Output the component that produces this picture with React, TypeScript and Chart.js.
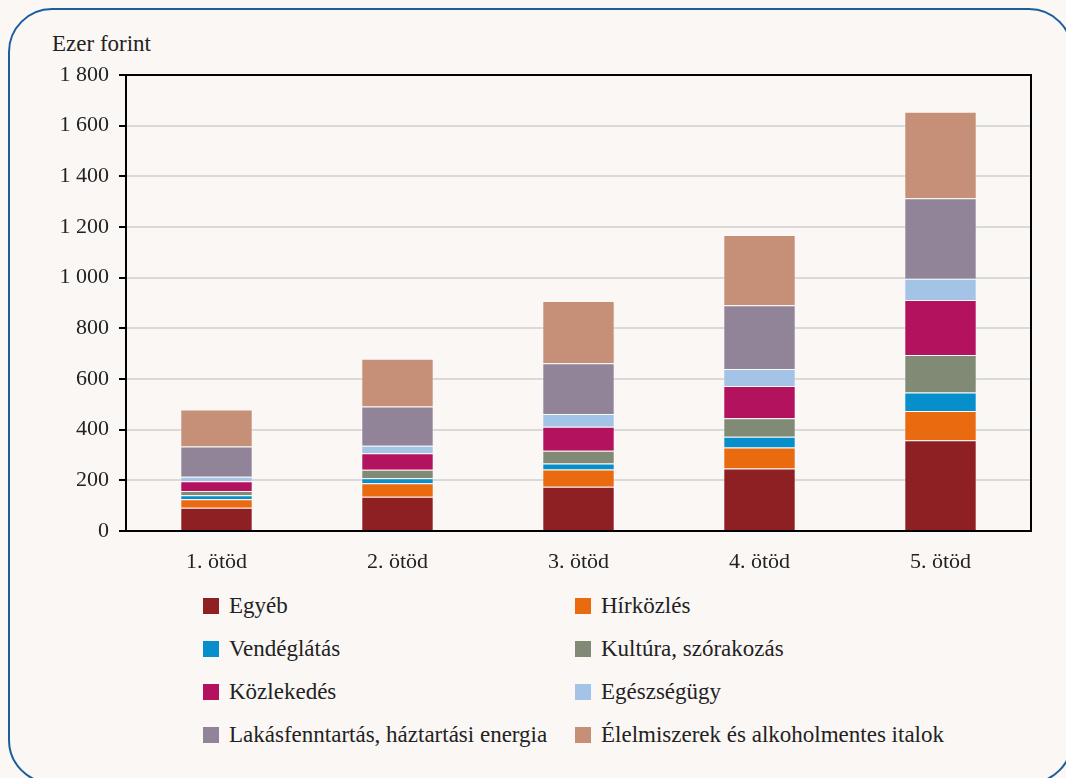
import React, { useEffect, useRef } from "react";
import { Chart, registerables } from "chart.js";

Chart.register(...registerables);

const categories = ["1. ötöd", "2. ötöd", "3. ötöd", "4. ötöd", "5. ötöd"];
const seriesNames = [
  "Egyéb",
  "Hírközlés",
  "Vendéglátás",
  "Kultúra, szórakozás",
  "Közlekedés",
  "Egészségügy",
  "Lakásfenntartás, háztartási energia",
  "Élelmiszerek és alkoholmentes italok",
];
const egyeb = [92, 135, 175, 247, 358];
const hirkozles = [33, 53, 68, 83, 116];
const vendeglatas = [16, 20, 23, 42, 73];
const kultura = [17, 34, 51, 73, 148];
const kozlekedes = [38, 65, 95, 127, 217];
const egeszsegugy = [18, 30, 50, 67, 84];
const lakas = [120, 154, 200, 252, 317];
const elelmiszer = [146, 189, 246, 277, 342];
const seriesValues = [egyeb, hirkozles, vendeglatas, kultura, kozlekedes, egeszsegugy, lakas, elelmiszer];
const seriesColors = ["#8E2024", "#EA6A10", "#068FCA", "#808A74", "#B3125E", "#A3C4E6", "#928498", "#C58F78"];
const legendOrder = [
  [0, 1],
  [2, 3],
  [4, 5],
  [6, 7],
];

const FONT = "'Liberation Serif', 'Times New Roman', serif";
const BG = "#FAF7F5";

const frameBorder = {
  id: "frameBorder",
  afterDraw(chart: any) {
    const { ctx, chartArea } = chart;
    ctx.save();
    ctx.strokeStyle = "#000";
    ctx.lineWidth = 2;
    ctx.strokeRect(chartArea.left, chartArea.top, chartArea.right - chartArea.left, chartArea.bottom - chartArea.top);
    ctx.restore();
  },
};

export default function App() {
  const ref = useRef<HTMLCanvasElement | null>(null);
  useEffect(() => {
    document.body.style.margin = "0";
    document.body.style.background = BG;
    document.body.style.overflow = "hidden";
    const chart = new Chart(ref.current as HTMLCanvasElement, {
      type: "bar",
      data: {
        labels: categories,
        datasets: seriesNames.map((name, i) => ({
          label: name,
          data: seriesValues[i],
          backgroundColor: seriesColors[i],
          borderColor: "rgba(255,255,255,0.3)",
          borderWidth: 1,
          barPercentage: 0.4,
          categoryPercentage: 1,
        })),
      },
      options: {
        animation: false,
        responsive: false,
        maintainAspectRatio: false,
        layout: { padding: { top: 75, right: 35, left: 0, bottom: 0 } },
        plugins: { legend: { display: false }, tooltip: { enabled: false } },
        scales: {
          x: {
            stacked: true,
            grid: { display: false },
            border: { color: "#000", width: 2 },
            ticks: { color: "#222", font: { family: FONT, size: 22 }, padding: 10 },
            afterFit: (s: any) => {
              s.height = 49;
            },
          },
          y: {
            stacked: true,
            min: 0,
            max: 1800,
            ticks: {
              stepSize: 200,
              color: "#222",
              font: { family: FONT, size: 22 },
              padding: 10,
              callback: (v: any) => String(v).replace(/\B(?=(\d{3})+(?!\d))/g, " "),
            },
            grid: { color: "#d9d9d9", lineWidth: 2, tickColor: "#000", tickLength: 7 },
            border: { color: "#000", width: 2 },
            afterFit: (s: any) => {
              s.width = 126;
            },
          },
        },
      },
      plugins: [frameBorder],
    });
    return () => chart.destroy();
  }, []);

  return (
    <div style={{ position: "relative", width: 1066, height: 778, overflow: "hidden", background: BG, fontFamily: FONT, color: "#222" }}>
      <div
        style={{
          position: "absolute",
          left: 8,
          top: 8,
          width: 1065,
          height: 776,
          border: "2px solid #1A5E9E",
          borderRadius: 44,
          boxSizing: "border-box",
        }}
      />
      <div style={{ position: "absolute", left: 52, top: 31, fontSize: 23, lineHeight: "25px" }}>Ezer forint</div>
      <canvas ref={ref} width={1066} height={580} style={{ position: "absolute", left: 0, top: 0 }} />
      {legendOrder.map((row, r) =>
        row.map((idx, c) => (
          <div
            key={idx}
            style={{
              position: "absolute",
              left: c === 0 ? 203 : 575,
              top: 606 + r * 43 - 13,
              height: 26,
              display: "flex",
              alignItems: "center",
              fontSize: 23,
              whiteSpace: "nowrap",
            }}
          >
            <span style={{ display: "inline-block", width: 16, height: 16, background: seriesColors[idx], marginRight: 10 }} />
            {seriesNames[idx]}
          </div>
        ))
      )}
    </div>
  );
}
